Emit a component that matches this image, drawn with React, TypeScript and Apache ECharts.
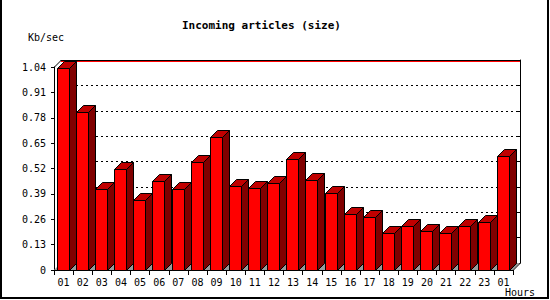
import React, { useEffect, useRef } from 'react';
import * as echarts from 'echarts';

const HOURS = ['01', '02', '03', '04', '05', '06', '07', '08', '09', '10', '11', '12', '13', '14', '15', '16', '17', '18', '19', '20', '21', '22', '23', '01'];
const SIZE_KBPS = [1.033, 0.811, 0.413, 0.516, 0.357, 0.454, 0.413, 0.555, 0.68, 0.43, 0.419, 0.447, 0.567, 0.46, 0.393, 0.285, 0.27, 0.188, 0.224, 0.198, 0.188, 0.224, 0.244, 0.582];
const Y_MIN = 0;
const Y_MAX = 1.04;
const Y_STEP = 0.13;

const TITLE = 'Incoming articles (size)';
const Y_NAME = 'Kb/sec';
const X_NAME = 'Hours';

const DEPTH = 7;
const FONT = '"DejaVu Sans Mono", monospace';

export default function App() {
  const ref = useRef<HTMLDivElement>(null);

  useEffect(() => {
    const chart = echarts.init(ref.current as HTMLDivElement, null, { renderer: 'svg' });
    const px = (v: number) => Math.round(v) + 0.5;
    const D = DEPTH;

    const frameSeries = {
      type: 'custom',
      xAxisIndex: 0,
      yAxisIndex: 0,
      z: 1,
      silent: true,
      clip: false,
      data: [[0, 0]],
      renderItem: (params: any) => {
        const cs = params.coordSys;
        const x = cs.x, y = cs.y, w = cs.width, h = cs.height;
        const yb = y + h;
        return {
          type: 'group',
          children: [
            { type: 'polygon', shape: { points: [[x, yb], [x + D, yb - D], [x + w + D, yb - D], [x + w, yb]] }, style: { fill: '#999999' } },
            { type: 'line', shape: { x1: x + D, y1: y - D + 1.5, x2: x + w + D, y2: y - D + 1.5 }, style: { stroke: '#ff0000', lineWidth: 1 } },
            { type: 'line', shape: { x1: x + 0.5, y1: y, x2: x + D + 0.5, y2: y - D }, style: { stroke: '#000', lineWidth: 1 } },
            { type: 'line', shape: { x1: x + w + D + 0.5, y1: yb - D, x2: x + w + 0.5, y2: yb }, style: { stroke: '#000', lineWidth: 1 } },
          ],
        };
      },
    };

    const barSeries = {
      type: 'custom',
      name: 'size',
      xAxisIndex: 0,
      yAxisIndex: 0,
      z: 3,
      clip: false,
      encode: { x: 0, y: 1 },
      data: SIZE_KBPS.map((v, i) => [i, v]),
      renderItem: (params: any, api: any) => {
        const i = api.value(0);
        const v = api.value(1);
        const p = api.coord([i, v]);
        const b = api.coord([i, 0]);
        const cw = api.size([1, 0])[0];
        const x0 = px(p[0] - cw * 0.35);
        const fw = Math.round(cw * 0.63);
        const x1 = x0 + fw;
        const yt = px(p[1]);
        const yb = px(b[1]);
        const stroke = { stroke: '#000', lineWidth: 1 };
        return {
          type: 'group',
          children: [
            { type: 'polygon', shape: { points: [[x1, yt], [x1 + D, yt - D], [x1 + D, yb - D], [x1, yb]] }, style: { fill: '#800000', ...stroke } },
            { type: 'polygon', shape: { points: [[x0, yt], [x0 + D, yt - D], [x1 + D, yt - D], [x1, yt]] }, style: { fill: '#c00000', ...stroke } },
            { type: 'rect', shape: { x: x0, y: yt, width: fw, height: yb - yt }, style: { fill: '#ff0000', ...stroke } },
          ],
        };
      },
    };

    const option: any = {
      animation: false,
      backgroundColor: '#ffffff',
      title: {
        text: TITLE,
        left: 182,
        top: 20,
        padding: 0,
        textStyle: { fontFamily: FONT, fontSize: 11, fontWeight: 'bold', color: '#000' },
      },
      grid: [
        { left: 54, top: 67, width: 459, height: 203 },
        { left: 54 + DEPTH, top: 67 - DEPTH, width: 459, height: 203 },
      ],
      xAxis: [
        {
          gridIndex: 0,
          type: 'category',
          data: HOURS,
          boundaryGap: true,
          axisLine: { show: true, lineStyle: { color: '#000', width: 1 } },
          axisTick: { show: true, interval: 0, length: 5, lineStyle: { color: '#000' } },
          axisLabel: { interval: 0, margin: 7, fontFamily: FONT, fontSize: 10, color: '#000' },
          splitLine: { show: false },
        },
        {
          gridIndex: 1,
          type: 'value',
          position: 'top',
          min: 0,
          max: 1,
          axisLine: { show: true, onZero: false, lineStyle: { color: '#000', width: 1 } },
          axisTick: { show: false },
          axisLabel: { show: false },
          splitLine: { show: false },
        },
      ],
      yAxis: [
        {
          gridIndex: 0,
          type: 'value',
          min: Y_MIN,
          max: Y_MAX,
          interval: Y_STEP,
          axisLine: { show: true, onZero: false, lineStyle: { color: '#000', width: 1 } },
          axisTick: { show: true, length: 3, lineStyle: { color: '#000' } },
          axisLabel: {
            margin: 8,
            fontFamily: FONT,
            fontSize: 10,
            color: '#000',
            formatter: (v: number) => (v === 0 ? '0' : v.toFixed(2)),
          },
          splitLine: { show: false },
        },
        {
          gridIndex: 1,
          type: 'value',
          position: 'right',
          min: Y_MIN,
          max: Y_MAX,
          interval: Y_STEP,
          axisLine: { show: true, onZero: false, lineStyle: { color: '#000', width: 1 } },
          axisTick: { show: true, inside: true, length: 3, lineStyle: { color: '#000' } },
          axisLabel: { show: false },
          splitLine: {
            show: true,
            showMinLine: false,
            showMaxLine: false,
            lineStyle: { color: '#000', width: 1, type: [2, 3] },
          },
        },
      ],
      series: [frameSeries, barSeries],
      graphic: [
        { type: 'text', x: 28, y: 37, style: { text: Y_NAME, fontFamily: FONT, fontSize: 10, fill: '#000', verticalAlign: 'middle' } },
        { type: 'text', x: 505, y: 292, style: { text: X_NAME, fontFamily: FONT, fontSize: 10, fill: '#000', verticalAlign: 'middle' } },
        { type: 'line', shape: { x1: 1, y1: 0, x2: 1, y2: 299 }, style: { stroke: '#000', lineWidth: 2 } },
        { type: 'line', shape: { x1: 548, y1: 0, x2: 548, y2: 299 }, style: { stroke: '#000', lineWidth: 2 } },
        { type: 'line', shape: { x1: 0, y1: 298, x2: 549, y2: 298 }, style: { stroke: '#000', lineWidth: 2 } },
      ],
    };

    chart.setOption(option);
    return () => chart.dispose();
  }, []);

  return <div ref={ref} style={{ position: 'absolute', left: 0, top: 0, width: 550, height: 300 }} />;
}
